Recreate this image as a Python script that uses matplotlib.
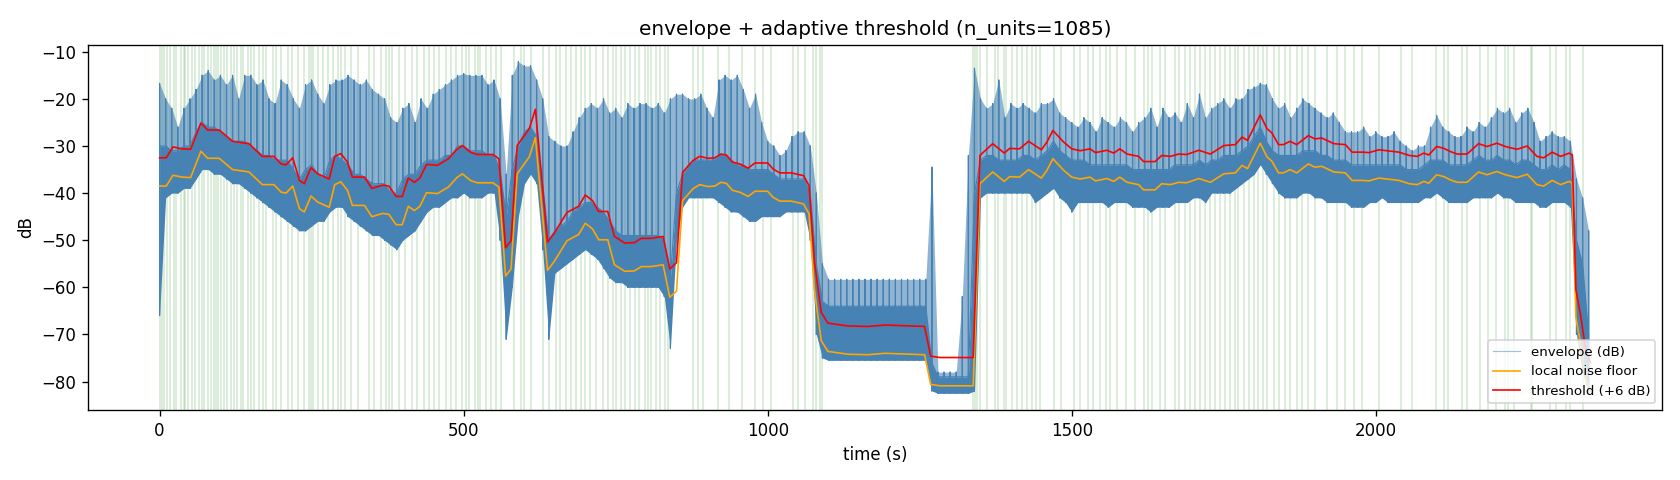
import numpy as np
import matplotlib
matplotlib.use("Agg")
import matplotlib.pyplot as plt

# ─── data ────────────────────────────────────────────────────────────────────
N_UNITS = 1085

# envelope sampled every 10 s: spike tops, top of dense core, bottom edge (dB)
env_t = np.arange(0, 2360, 10)
env_hi = [
    -16.7, -20, -22, -26, -22, -20, -18, -15, -14, -16,
    -15, -17, -15, -20, -15, -15, -17, -16, -20, -21,
    -16, -17, -20, -22, -17, -16, -19, -21, -17, -16,
    -16, -15, -16, -17, -16, -18, -19, -20, -24, -25,
    -22, -21, -25, -20, -22, -19, -18, -17, -16, -15,
    -14.6, -15, -15, -15, -17, -16, -20, -36, -15, -12.1,
    -13, -13, -16, -20, -28, -29, -30, -30, -27, -24,
    -22, -21, -22, -20, -23, -22, -24, -21, -22, -21,
    -21, -22, -21, -23, -20, -19, -19, -20, -20, -19,
    -22, -24, -16, -15, -16, -15, -18, -22, -19, -25,
    -29, -30, -32, -31, -28, -27, -27, -30, -40, -55,
    -58.3, -58.3, -58.3, -58.3, -58.3, -58.3, -58.3, -58.3, -58.3, -58.3,
    -58.3, -58.3, -58.3, -58.3, -58.3, -58.3, -58.3, -34.5, -78, -78,
    -78, -78, -62, -32, -13.5, -20, -22, -21, -16, -24,
    -21, -22, -21, -22, -23, -21, -21, -20, -23, -24,
    -25, -26, -24, -25, -27, -24, -25, -26, -24, -25,
    -27, -25, -24, -22, -26, -22, -24, -23, -25, -21,
    -24, -19, -24, -22, -21, -20, -22, -20, -20, -18,
    -17.5, -16.7, -17, -20, -22, -21, -24, -22, -20, -21,
    -22, -23, -24, -23, -25, -27, -27, -27, -26, -28,
    -27, -28, -28, -27, -29, -30, -31, -30, -30, -26,
    -23.5, -26, -27, -28, -28, -26, -27, -25, -26, -24,
    -22, -23, -22, -25, -23, -22, -25, -29, -28, -27,
    -28, -28, -29, -37, -41, -48,
]
env_core = [
    -30, -30, -31, -31, -30, -30, -27, -25, -26, -26,
    -27, -28, -29, -29, -29, -30, -31, -32, -32, -33,
    -33, -33, -35, -37, -35, -34, -36, -37, -33, -32,
    -33, -34, -36, -36, -37, -38, -38, -38, -40, -40,
    -37, -36, -36, -34, -33, -33, -33, -32, -32, -30,
    -30, -31, -31, -31, -32, -32, -35, -45, -35, -30,
    -27, -26, -28, -38, -50, -48, -47, -46, -44, -43,
    -42, -42, -43, -44, -46, -48, -49, -49, -49, -49,
    -49, -49, -49, -50, -58, -40, -36, -34, -33, -33,
    -33, -33, -32, -32, -33, -34, -34, -35, -35, -35,
    -35, -36, -37, -37, -37, -37, -37, -40, -55, -63,
    -64, -64, -64, -64, -64, -64, -64, -64, -64, -64,
    -64, -64, -64, -64, -64, -64, -64, -76, -79, -79,
    -79, -79, -79, -79, -40, -33, -32, -32, -33, -33,
    -33, -33, -32, -32, -33, -32, -31, -29, -31, -32,
    -33, -33, -33, -34, -34, -34, -34, -34, -34, -34,
    -35, -35, -35, -35, -35, -35, -35, -34, -34, -34,
    -34, -33, -34, -33, -33, -32, -32, -32, -31, -30,
    -28, -26, -29, -31, -32, -32, -32, -32, -31, -31,
    -31, -32, -32, -33, -33, -33, -34, -34, -34, -34,
    -34, -34, -34, -34, -34, -35, -35, -35, -34, -33,
    -33, -33, -34, -34, -34, -34, -33, -32, -33, -33,
    -32, -33, -33, -34, -33, -33, -34, -35, -35, -34,
    -35, -34, -35, -50, -55, -70,
]
env_lo = [
    -66, -41, -40, -40, -39, -39, -37, -35, -35, -36,
    -36, -37, -38, -38, -39, -40, -41, -42, -43, -44,
    -45, -46, -47, -48, -48, -47, -46, -46, -44, -43,
    -43, -45, -46, -47, -48, -49, -49, -50, -51, -52,
    -50, -49, -48, -46, -44, -43, -43, -42, -41, -41,
    -40, -41, -41, -41, -40, -40, -50, -71, -60, -45,
    -38, -36, -38, -52, -71, -57, -56, -55, -54, -53,
    -52, -53, -54, -56, -58, -59, -59, -60, -60, -60,
    -60, -60, -60, -62, -73, -50, -43, -41, -41, -41,
    -41, -41, -42, -43, -44, -44, -45, -46, -46, -45,
    -45, -45, -45, -44, -44, -44, -44, -50, -70, -75,
    -75.5, -75.5, -75.5, -75.5, -75.5, -75.5, -75.5, -75.5, -75.5, -75.5,
    -75.5, -75.5, -75.5, -75.5, -75.5, -75.5, -75.5, -82, -82.5, -82.5,
    -82.5, -82.5, -82.5, -82.5, -82, -41, -40, -40, -40, -40,
    -40, -40, -40, -40, -42, -41, -40, -39, -41, -42,
    -44, -42, -42, -42, -42, -42, -43, -42, -42, -42,
    -43, -43, -43, -44, -43, -43, -43, -42, -42, -42,
    -41, -41, -42, -40, -40, -40, -40, -39, -38, -37,
    -36, -34, -36, -38, -40, -41, -41, -41, -40, -40,
    -41, -41, -42, -42, -42, -42, -43, -43, -43, -42,
    -42, -41, -42, -42, -42, -42, -42, -42, -41, -41,
    -40, -41, -42, -42, -42, -42, -41, -41, -41, -41,
    -40, -41, -41, -42, -42, -42, -42, -43, -43, -42,
    -42, -42, -43, -70, -78, -82.5,
]

# local noise floor (knots along the orange line)
floor_t = [
    0, 11, 22, 37, 51, 68, 79, 98, 120, 147,
    169, 188, 200, 208, 219, 230, 238, 249, 260, 279,
    288, 298, 309, 317, 337, 349, 367, 377, 389, 399,
    409, 419, 428, 439, 457, 475, 489, 498, 511, 522,
    548, 558, 569, 578, 588, 608, 618, 638, 649, 670,
    689, 700, 712, 722, 737, 748, 765, 781, 792, 808,
    828, 839, 850, 860, 877, 888, 902, 913, 923, 932,
    942, 954, 968, 979, 1000, 1009, 1020, 1039, 1059, 1068,
    1077, 1088, 1099, 1132, 1165, 1193, 1258, 1268, 1283, 1338,
    1349, 1370, 1389, 1398, 1414, 1429, 1450, 1459, 1469, 1487,
    1500, 1514, 1530, 1539, 1558, 1569, 1579, 1591, 1610, 1618,
    1637, 1648, 1662, 1676, 1689, 1709, 1728, 1750, 1769, 1780,
    1789, 1810, 1821, 1829, 1840, 1848, 1859, 1870, 1889, 1900,
    1911, 1931, 1950, 1961, 1978, 1989, 2005, 2038, 2055, 2068,
    2079, 2087, 2100, 2112, 2123, 2134, 2150, 2169, 2183, 2199,
    2213, 2232, 2249, 2265, 2276, 2290, 2304, 2318, 2323, 2329,
    2337, 2345, 2353,
]
floor_db = [
    -38.5, -38.5, -36.2, -36.6, -36.7, -31.1, -32.6, -32.6, -35.0, -35.5,
    -38.2, -38.2, -39.8, -40.0, -38.5, -43.3, -44.0, -40.6, -41.9, -43.0,
    -38.2, -37.6, -39.4, -42.6, -42.6, -45.0, -44.3, -44.5, -46.7, -46.7,
    -42.8, -43.7, -42.8, -39.9, -40.1, -38.7, -36.7, -35.9, -37.3, -37.8,
    -37.8, -38.7, -57.6, -56.1, -35.9, -32.3, -28.2, -56.4, -54.5, -50.1,
    -48.8, -46.4, -47.6, -49.9, -49.9, -55.2, -56.6, -56.5, -55.6, -55.6,
    -55.2, -62.1, -60.8, -41.6, -39.1, -38.2, -38.6, -38.5, -37.7, -37.9,
    -39.4, -39.8, -40.7, -39.6, -39.6, -40.9, -41.7, -41.7, -42.3, -44.4,
    -60.7, -71.3, -73.6, -74.2, -74.3, -74.0, -74.3, -80.6, -80.9, -80.9,
    -38.0, -35.5, -37.5, -36.5, -36.6, -35.0, -36.8, -35.2, -32.7, -35.2,
    -36.6, -37.0, -36.6, -37.4, -36.9, -37.5, -36.6, -37.7, -38.2, -39.3,
    -39.3, -38.0, -38.2, -37.7, -37.8, -36.9, -37.7, -35.9, -35.7, -34.1,
    -34.8, -29.4, -32.3, -33.2, -35.7, -35.7, -35.0, -35.7, -33.8, -34.5,
    -34.3, -35.5, -35.7, -37.3, -37.3, -37.4, -36.8, -37.3, -38.0, -38.2,
    -37.5, -37.9, -36.1, -36.5, -37.2, -37.7, -37.7, -35.5, -36.1, -35.4,
    -36.1, -36.7, -36.0, -38.2, -38.5, -37.3, -38.2, -37.5, -37.9, -66.4,
    -72.1, -79.2, -82.0,
]
THRESH_OFFSET = 6.0

# detected unit onsets (visible green markers)
unit_t = [
    1.1, 3.8, 7.7, 12, 17.6, 23, 27, 35, 39.5, 42, 47, 54, 59, 65, 69, 73.5,
    79, 84.5, 90, 93, 96.6, 101, 106, 111, 117, 122, 128, 134, 138, 146, 150,
    156, 164, 170, 175, 186, 191.5, 200, 211, 217, 227, 238, 245, 249, 252,
    260, 268, 277, 285, 293, 298.5, 305, 315, 327, 345, 353, 364, 372, 377,
    383, 394, 403, 415, 424, 435.5, 443, 452, 460, 471, 479, 488, 498, 504,
    509.5, 519.5, 523, 527, 537, 545, 553, 561, 583, 594, 600, 611, 630, 641,
    652, 658, 669, 677, 685, 693, 699, 707, 718, 729, 737, 745, 751, 759, 765,
    773, 781, 789, 797.5, 803, 808.5, 817, 823, 831, 836, 877, 885, 893.5,
    919, 937, 957, 979, 992, 1006, 1042, 1050, 1061, 1075, 1080, 1086, 1090,
    1337, 1341, 1345, 1349, 1360, 1374, 1379, 1389, 1392, 1401.5, 1409.6,
    1418, 1426, 1434, 1442, 1447.5, 1470, 1483, 1503, 1514, 1527, 1535, 1546,
    1557, 1563, 1574, 1590, 1604, 1618, 1626, 1631.6, 1645, 1653.4, 1670,
    1675.9, 1686, 1694.6, 1703, 1711, 1719, 1727, 1736, 1744, 1752.5, 1760.6,
    1769, 1774, 1782.6, 1791, 1799, 1807, 1815, 1821, 1832, 1840, 1851, 1859,
    1870, 1878, 1889, 1900, 1920, 1936, 1950, 1963.6, 1977, 2005, 2040.6,
    2059.6, 2099.6, 2111.8, 2119, 2142, 2150, 2171, 2184, 2197, 2212, 2218,
    2227, 2254.7, 2257, 2287, 2297, 2312, 2320, 2340,
]

# ─── plot ────────────────────────────────────────────────────────────────────
env_hi = np.array(env_hi)
env_core = np.array(env_core)
env_lo = np.array(env_lo)
floor_db = np.array(floor_db)

# envelope trace: vertical excursions core -> top -> bottom -> core in each 10 s window
spike_t = np.repeat(env_t, 4)
spike_db = np.column_stack([env_core, env_hi, env_lo, env_core]).ravel()

fig, ax = plt.subplots(figsize=(14, 4), dpi=120)

for t in unit_t:
    ax.axvline(t, color="green", alpha=0.18, linewidth=0.9, zorder=0)

# sparse spiky zone above the dense core, then the dense core itself
ax.fill_between(env_t, env_core, env_hi, color="steelblue", alpha=0.6,
                linewidth=0, zorder=1)
ax.fill_between(env_t, env_lo, env_core, color="steelblue", linewidth=0, zorder=1)
ax.plot(spike_t, spike_db, color="steelblue", linewidth=0.7,
        label="envelope (dB)", zorder=2)
ax.plot(floor_t, floor_db, color="orange", linewidth=1.0,
        label="local noise floor", zorder=3)
ax.plot(floor_t, floor_db + THRESH_OFFSET, color="red", linewidth=1.0,
        label="threshold (+6 dB)", zorder=4)

ax.set_title(f"envelope + adaptive threshold (n_units={N_UNITS})")
ax.set_xlabel("time (s)")
ax.set_ylabel("dB")
leg = ax.legend(loc="lower right", fontsize=8)
leg.get_lines()[0].set_alpha(0.5)

fig.subplots_adjust(left=0.0524, right=0.9893, top=0.906, bottom=0.146)
fig.savefig("out.png", dpi=120)
